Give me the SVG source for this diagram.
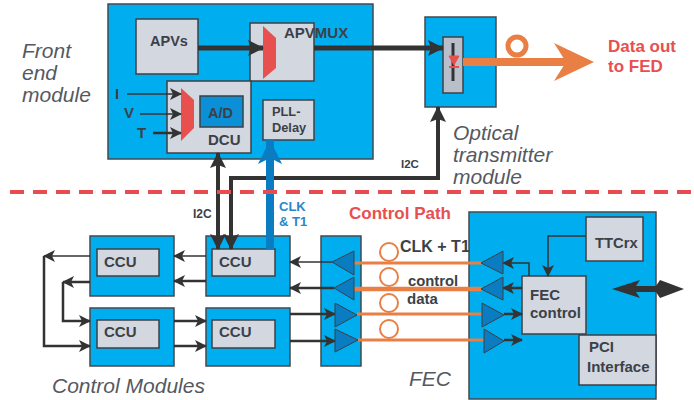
<svg xmlns="http://www.w3.org/2000/svg" width="694" height="400" viewBox="0 0 694 400">
<style>
text{font-family:"Liberation Sans",Arial,sans-serif;fill:#3c4148}
.b{font-weight:bold}
.it{font-style:italic;fill:#55595f;font-size:21px}
.panel{fill:#00aeef;stroke:#44494e;stroke-width:1.5}
.box{fill:#d3d7df;stroke:#3c4045;stroke-width:1.5}
.w{fill:none;stroke:#333;stroke-width:1.5}
.w2{fill:none;stroke:#333;stroke-width:2.5}
.w3{fill:none;stroke:#333;stroke-width:4}
.w5{fill:none;stroke:#333;stroke-width:5}
.o{fill:none;stroke:#e97f45;stroke-width:3}
.o2{fill:none;stroke:#e97f45;stroke-width:4.5}
.c{fill:none;stroke:#e97f45;stroke-width:2}
.t{fill:#0a7cc1;stroke:#3c4045;stroke-width:1}
.m{fill:#e8504f}
.r{fill:#e8504f}
.bl{fill:#2a86c8}
</style>
<defs>
<marker id="a" viewBox="0 0 12 12" refX="11" refY="6" markerWidth="12" markerHeight="12" markerUnits="userSpaceOnUse" orient="auto-start-reverse"><path d="M0 0L12 6L0 12L3 6Z" fill="#333"/></marker>
<marker id="b" viewBox="0 0 16 16" refX="15" refY="8" markerWidth="16" markerHeight="16" markerUnits="userSpaceOnUse" orient="auto-start-reverse"><path d="M0 0L16 8L0 16L3 8Z" fill="#333"/></marker>
</defs>

<g id="front-end-module"><rect class="panel" x="108" y="4" width="265" height="155"/></g>
<g id="apvs"><rect class="box" x="136" y="19" width="62" height="55"/><text class="b" x="150" y="46" font-size="14.500">APVs</text></g>
<g id="apvmux"><rect class="box" x="250" y="23" width="64" height="58"/><polygon class="m" points="263,26 276,38 276,68 263,79"/><text class="b" x="284" y="38" font-size="15">APVMUX</text></g>
<g id="dcu"><rect class="box" x="167" y="81" width="84" height="72"/><polygon class="m" points="181,88 194,100 194,128 181,141"/><rect x="200" y="96" width="43" height="31" fill="#0b8fd6" stroke="#3c4045" stroke-width="1.5"/><text class="b" x="208" y="118" font-size="14.500">A/D</text><text class="b" x="208" y="145" font-size="15">DCU</text></g>
<g id="pll-delay"><rect class="box" x="263" y="100" width="51" height="40"/><text class="b" x="272" y="116" font-size="12.800">PLL-</text><text class="b" x="272" y="132" font-size="12.800">Delay</text></g>
<g id="optical-transmitter"><rect class="panel" x="425" y="17" width="71" height="90"/><rect x="443" y="37" width="20" height="56" fill="#b9bfca" stroke="#3c4045" stroke-width="1.500"/></g>
<g id="ccu-1"><rect class="panel" x="90" y="236" width="84" height="60"/><rect class="box" x="97" y="249" width="62" height="27"/><text class="b" x="104" y="267" font-size="15">CCU</text></g>
<g id="ccu-2"><rect class="panel" x="206" y="236" width="84" height="60"/><rect class="box" x="212" y="249" width="63" height="27"/><text class="b" x="219" y="267" font-size="15">CCU</text></g>
<g id="ccu-3"><rect class="panel" x="90" y="308" width="84" height="58"/><rect class="box" x="97" y="320" width="62" height="28"/><text class="b" x="104" y="337" font-size="15">CCU</text></g>
<g id="ccu-4"><rect class="panel" x="206" y="308" width="84" height="58"/><rect class="box" x="212" y="320" width="63" height="28"/><text class="b" x="219" y="337" font-size="15">CCU</text></g>
<g id="buffer-panel"><rect class="panel" x="321" y="236" width="40" height="130"/></g>
<g id="fec"><rect class="panel" x="469" y="212" width="187" height="187"/></g>
<g id="ttcrx"><rect class="box" x="586" y="217" width="57" height="44"/><text class="b" x="595" y="248" font-size="14.800">TTCrx</text></g>
<g id="fec-control"><rect class="box" x="522" y="276" width="64" height="58"/><text class="b" x="530" y="300" font-size="15">FEC</text><text class="b" x="530" y="318" font-size="15">control</text></g>
<g id="pci-interface"><rect class="box" x="579" y="335" width="77" height="50"/><text class="b" x="589" y="352" font-size="15">PCI</text><text class="b" x="587" y="372" font-size="15">Interface</text></g>

<g id="connectors">
<path class="w5" d="M198 48H263" marker-end="url(#b)"/>
<path class="w5" d="M314 48H443" marker-end="url(#b)"/>
<path class="w" d="M127 94H181" marker-end="url(#a)"/>
<path class="w" d="M140 114H181" marker-end="url(#a)"/>
<path class="w2" d="M153 133H181" marker-end="url(#a)"/>
<path class="w3" d="M218 153V249" marker-start="url(#b)" marker-end="url(#b)"/>
<path class="w3" d="M438 107V178H231V249" marker-start="url(#b)" marker-end="url(#b)"/>
<path d="M270 249V140" fill="none" stroke="#0a7cc1" stroke-width="8"/>
<path d="M270 140L282 164L270 158L258 164Z" fill="#0a7cc1"/>
<path class="w" d="M206 256H174" marker-end="url(#a)"/>
<path class="w2" d="M206 281H174" marker-end="url(#a)"/>
<path class="w" d="M90 256H44" marker-end="url(#a)"/>
<path class="w2" d="M44 256V346H90" marker-end="url(#a)"/>
<path class="w2" d="M90 282H63" marker-end="url(#a)"/>
<path class="w2" d="M63 282V321H90" marker-end="url(#a)"/>
<path class="w2" d="M174 321H206" marker-end="url(#a)"/>
<path class="w2" d="M174 346H206" marker-end="url(#a)"/>
<path class="w" d="M332 262H290" marker-end="url(#a)"/>
<path class="w2" d="M334 288H290" marker-end="url(#a)"/>
<path class="w2" d="M290 314H335" marker-end="url(#a)"/>
<path class="w2" d="M290 341H335" marker-end="url(#a)"/>
<path class="w" d="M586 236H548V276" marker-end="url(#a)"/>
<path class="w" d="M529 276V263H503" marker-end="url(#a)"/>
<path class="w2" d="M522 288H503" marker-end="url(#a)"/>
<path class="w2" d="M504 314H522" marker-end="url(#a)"/>
<path class="w2" d="M504 340H522" marker-end="url(#a)"/>
<path d="M612 289L640 280L636 286H656L660 280L684 289L660 298L656 292H636L640 298Z" fill="#333"/>
<path class="o" d="M354 263H482"/>
<path class="o2" d="M354 289H482"/>
<path class="o" d="M357 314H482"/>
<path class="o" d="M358 340H484"/>
<circle class="c" cx="389" cy="252" r="9"/>
<circle class="c" cx="389" cy="277" r="9"/>
<circle class="c" cx="389" cy="303" r="9"/>
<circle class="c" cx="389" cy="329" r="9"/>
<circle cx="517" cy="46" r="9" fill="none" stroke="#e97f45" stroke-width="5"/>
<path d="M463 62H575" fill="none" stroke="#e97f45" stroke-width="8"/>
<path d="M554 43L594 62L554 81L566 62Z" fill="#e97f45"/>
</g>

<g id="buffers">
<polygon class="t" points="332,262 354,251 354,275"/>
<polygon class="t" points="334,288 354,277 354,300"/>
<polygon class="t" points="335,303 357,315 335,327"/>
<polygon class="t" points="335,329 358,340 335,352"/>
<polygon class="t" points="481,263 503,251 503,274"/>
<polygon class="t" points="481,289 503,277 503,300"/>
<polygon class="t" points="482,303 504,315 482,327"/>
<polygon class="t" points="484,329 504,341 484,353"/>
</g>

<g id="laser">
<path d="M453 43V81" fill="none" stroke="#333" stroke-width="3"/>
<polygon points="449,56 459,56 454,65" fill="#e8504f" stroke="#e8504f"/>
<path d="M449 67H459" stroke="#e8504f" stroke-width="2"/>
</g>

<path id="divider" d="M10 192H694" fill="none" stroke="#e84c50" stroke-width="4" stroke-dasharray="14 9"/>

<g id="labels">
<text class="it" x="22" y="58">Front</text><text class="it" x="22" y="80">end</text><text class="it" x="22" y="102">module</text>
<text class="it" x="453" y="140">Optical</text><text class="it" x="453" y="162">transmitter</text><text class="it" x="453" y="184">module</text>
<text class="it" x="52" y="393">Control Modules</text>
<text class="it" x="409" y="386">FEC</text>
<text x="115" y="99" font-size="15" class="b">I</text><text x="124" y="118" font-size="15" class="b">V</text><text x="137" y="138" font-size="15" class="b">T</text>
<text class="b" x="401" y="168" font-size="11.500">I2C</text>
<text class="b" x="193" y="218" font-size="12">I2C</text>
<text class="b bl" x="279" y="211" font-size="13">CLK</text><text class="b bl" x="279" y="226" font-size="13">&amp; T1</text>
<text class="b r" x="349" y="219" font-size="17">Control Path</text>
<text class="b" x="400" y="252" font-size="16">CLK + T1</text>
<text class="b" x="408" y="286" font-size="14.800">control</text>
<text class="b" x="407" y="304" font-size="15">data</text>
<text class="b r" x="608" y="52" font-size="17">Data out</text><text class="b r" x="608" y="72" font-size="17">to FED</text>
</g>
</svg>
